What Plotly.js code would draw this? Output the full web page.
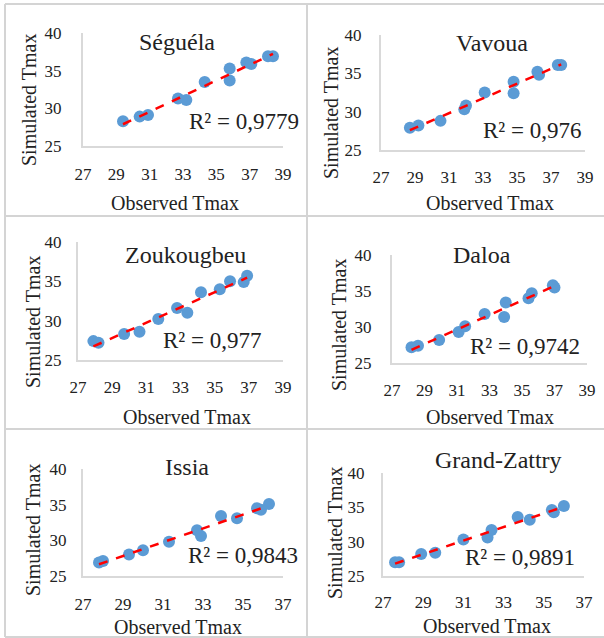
<!DOCTYPE html>
<html>
<head>
<meta charset="utf-8">
<script src="https://cdn.plot.ly/plotly-3.0.1.min.js"></script>
<style>html,body{margin:0;padding:0;background:#fff;}</style>
</head>
<body>
<div id="chart" style="width:604px;height:638px;"></div>
<script>
// ---- Data ----
const stations = ["Séguéla", "Vavoua", "Zoukougbeu", "Daloa", "Issia", "Grand-Zattry"];
const r2Labels = ["R² = 0,9779", "R² = 0,976", "R² = 0,977", "R² = 0,9742", "R² = 0,9843", "R² = 0,9891"];

const seguelaObs = [29.4, 30.4, 30.9, 32.7, 33.2, 34.3, 35.8, 35.8, 36.8, 37.1, 38.1, 38.4];
const seguelaSim = [28.3, 28.9, 29.1, 31.3, 31.1, 33.5, 35.3, 33.7, 36.1, 35.9, 36.9, 36.9];

const vavouaObs = [28.7, 29.2, 30.5, 31.9, 32.0, 33.1, 34.8, 34.8, 36.2, 36.3, 37.4, 37.6];
const vavouaSim = [27.9, 28.2, 28.8, 30.3, 30.8, 32.5, 33.9, 32.4, 35.2, 34.8, 36.1, 36.1];

const zoukObs = [27.9, 28.2, 29.7, 30.6, 31.7, 32.8, 33.4, 34.2, 35.3, 35.9, 36.7, 36.9];
const zoukSim = [27.4, 27.2, 28.3, 28.6, 30.2, 31.6, 31.0, 33.6, 34.0, 35.0, 34.9, 35.7];

const daloaObs = [28.2, 28.6, 29.9, 31.1, 31.5, 32.7, 33.9, 34.0, 35.4, 35.6, 36.9, 37.0];
const daloaSim = [27.2, 27.4, 28.2, 29.3, 30.1, 31.8, 31.4, 33.4, 34.0, 34.7, 35.8, 35.5];

const issiaObs = [27.8, 28.0, 29.3, 30.0, 31.3, 32.7, 32.9, 33.9, 34.7, 35.7, 35.9, 36.3];
const issiaSim = [26.9, 27.1, 28.0, 28.6, 29.8, 31.4, 30.6, 33.4, 33.1, 34.5, 34.3, 35.1];

const gzObs = [27.6, 27.8, 28.9, 29.6, 31.0, 32.2, 32.4, 33.7, 34.3, 35.4, 35.5, 36.0];
const gzSim = [27.0, 27.0, 28.2, 28.4, 30.3, 30.6, 31.7, 33.6, 33.2, 34.6, 34.3, 35.2];

const xRanges = [[27, 39], [27, 39], [27, 39], [27, 39], [27, 37], [27, 37]];
const yRange = [25, 40];

const obsSets = [seguelaObs, vavouaObs, zoukObs, daloaObs, issiaObs, gzObs];
const simSets = [seguelaSim, vavouaSim, zoukSim, daloaSim, issiaSim, gzSim];

// ---- Layout geometry (pixels) ----
const W = 604, H = 638;
const px = x => x / W;
const py = y => 1 - y / H;
// plot areas [x0, x1, yTop, yBottom]
const boxes = [
  [83, 283, 33, 146],
  [381, 585, 35, 150],
  [78, 283, 242, 360],
  [392, 587, 255, 363],
  [83, 283, 469, 576],
  [383, 584, 473, 576]
];
const yStandoff = [16, 14, 11, 15, 11, 13];
const xStandoff = [12, 11, 11, 11, 12, 10];
const titlePos = [[177, 42], [492, 43], [185, 255], [482, 255], [187, 467], [499, 460]];
const r2Pos = [[244, 121], [532, 130], [212, 340], [525, 346], [243, 555], [520, 557]];
const yTitlePos = [[29, 100], [331, 113], [33, 322], [339, 325], [33, 530], [335, 533]];
const xTitlePos = [[175, 203], [490, 203], [187, 417], [490, 417], [178, 627], [487, 626]];

const serif = "'Liberation Serif', 'Times New Roman', Times, serif";
const textColor = "#222";
const axisColor = "#d9d9d9";
const markerColor = "rgb(91,155,213)";

function linfit(xs, ys) {
  const n = xs.length;
  const mx = xs.reduce((a, b) => a + b, 0) / n;
  const my = ys.reduce((a, b) => a + b, 0) / n;
  let sxy = 0, sxx = 0;
  for (let i = 0; i < n; i++) { sxy += (xs[i] - mx) * (ys[i] - my); sxx += (xs[i] - mx) ** 2; }
  const b = sxy / sxx; const a = my - b * mx;
  return { a, b };
}

const traces = [];
const layout = {
  width: W, height: H,
  margin: { l: 0, r: 0, t: 0, b: 0 },
  paper_bgcolor: "#fff", plot_bgcolor: "#fff",
  showlegend: false,
  font: { family: serif },
  annotations: [],
  shapes: []
};

for (let i = 0; i < 6; i++) {
  const k = i === 0 ? "" : String(i + 1);
  const xa = "x" + k, ya = "y" + k;
  const xs = obsSets[i], ys = simSets[i];
  traces.push({
    type: "scatter", mode: "markers", x: xs, y: ys, xaxis: xa, yaxis: ya,
    marker: { color: markerColor, size: 12 }, hoverinfo: "skip"
  });
  const f = linfit(xs, ys);
  const xmin = Math.min(...xs), xmax = Math.max(...xs);
  traces.push({
    type: "scatter", mode: "lines", x: [xmin, xmax], y: [f.a + f.b * xmin, f.a + f.b * xmax],
    xaxis: xa, yaxis: ya, line: { color: "#ff0000", width: 2.5, dash: "dash" }, hoverinfo: "skip"
  });
  const bx = boxes[i];
  const r = xRanges[i];
  const xticks = [];
  for (let t = r[0]; t <= r[1]; t += 2) xticks.push(t);
  layout["xaxis" + k] = {
    domain: [px(bx[0]), px(bx[1])], range: r, anchor: ya,
    tickvals: xticks, ticktext: xticks.map(String),
    showgrid: false, zeroline: false, showline: true, linecolor: axisColor, linewidth: 2,
    ticks: "", ticklabelstandoff: xStandoff[i],
    tickfont: { family: serif, size: 17, color: textColor }, fixedrange: true
  };
  layout["yaxis" + k] = {
    domain: [py(bx[3]), py(bx[2])], range: yRange, anchor: xa,
    tickvals: [25, 30, 35, 40], ticktext: ["25", "30", "35", "40"],
    showgrid: false, zeroline: false, showline: true, linecolor: axisColor, linewidth: 2,
    ticks: "", ticklabelstandoff: yStandoff[i],
    tickfont: { family: serif, size: 17, color: textColor }, fixedrange: true
  };
  layout.annotations.push({
    xref: "paper", yref: "paper", x: px(titlePos[i][0]), y: py(titlePos[i][1]),
    text: stations[i], showarrow: false, xanchor: "center", yanchor: "middle",
    font: { family: serif, size: 24, color: textColor }
  });
  layout.annotations.push({
    xref: "paper", yref: "paper", x: px(r2Pos[i][0]), y: py(r2Pos[i][1]),
    text: r2Labels[i], showarrow: false, xanchor: "center", yanchor: "middle",
    font: { family: serif, size: 23, color: textColor }
  });
  layout.annotations.push({
    xref: "paper", yref: "paper", x: px(yTitlePos[i][0]), y: py(yTitlePos[i][1]),
    text: "Simulated Tmax", showarrow: false, textangle: -90, xanchor: "center", yanchor: "middle",
    font: { family: serif, size: 20, color: textColor }
  });
  layout.annotations.push({
    xref: "paper", yref: "paper", x: px(xTitlePos[i][0]), y: py(xTitlePos[i][1]),
    text: "Observed Tmax", showarrow: false, xanchor: "center", yanchor: "middle",
    font: { family: serif, size: 20, color: textColor }
  });
}

// panel frame lines
const frameColor = "#d4d4d4";
const frame = [
  [5, 4, 5, 637], [5, 4, 604, 4], [5, 637, 604, 637],
  [307, 4, 307, 637], [5, 216, 604, 216], [5, 429, 604, 429]
];
frame.forEach(s => layout.shapes.push({
  type: "line", xref: "paper", yref: "paper",
  x0: px(s[0]), y0: py(s[1]), x1: px(s[2]), y1: py(s[3]),
  line: { color: frameColor, width: 2 }
}));

Plotly.newPlot("chart", traces, layout, { displayModeBar: false, staticPlot: true });
</script>
</body>
</html>
